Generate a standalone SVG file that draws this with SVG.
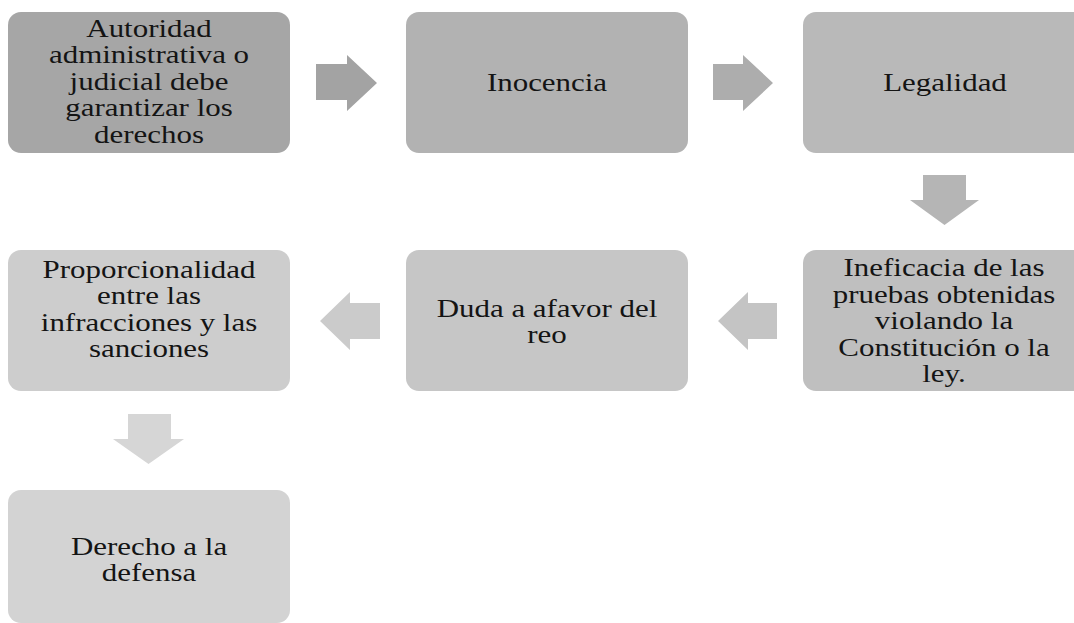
<svg xmlns="http://www.w3.org/2000/svg" width="1074" height="623" viewBox="0 0 1074 623">
<style>
text{font-family:"Liberation Serif","Times New Roman",serif;font-size:26px;fill:#141414;text-anchor:middle}
</style>
<rect width="1074" height="623" fill="#ffffff"/>
<g id="connectors">
<path d="M316 64H347V55L377 83L347 111V100H316Z" fill="#a3a3a3"/>
<path d="M713 64H743V55L773 83L743 111V100H713Z" fill="#adadad"/>
<path d="M923 175H966V200H979L944.5 225L910 200H923Z" fill="#b5b5b5"/>
<path d="M777 303H748V292L718 321L748 350V339H777Z" fill="#c4c4c4"/>
<path d="M380 303H350V292L320 321L350 350V339H380Z" fill="#cbcbcb"/>
<path d="M128 414H171V439H184L148.5 464L113 439H128Z" fill="#d6d6d6"/>
</g>
<g id="n1"><rect x="8" y="12" width="282" height="141" rx="13" fill="#a6a6a6"/>
<text transform="translate(149,0) scale(1.19,1)"><tspan x="0" y="37">Autoridad</tspan><tspan x="0" y="63.5">administrativa o</tspan><tspan x="0" y="90">judicial debe</tspan><tspan x="0" y="116.5">garantizar los</tspan><tspan x="0" y="143">derechos</tspan></text></g>
<g id="n2"><rect x="406" y="12" width="282" height="141" rx="13" fill="#b2b2b2"/>
<text transform="translate(547,0) scale(1.19,1)"><tspan x="0" y="91">Inocencia</tspan></text></g>
<g id="n3"><rect x="803" y="12" width="290" height="141" rx="13" fill="#b9b9b9"/>
<text transform="translate(945,0) scale(1.19,1)"><tspan x="0" y="91">Legalidad</tspan></text></g>
<g id="n4"><rect x="803" y="250" width="290" height="141" rx="13" fill="#bfbfbf"/>
<text transform="translate(944,0) scale(1.19,1)"><tspan x="0" y="276.5">Ineficacia de las</tspan><tspan x="0" y="303">pruebas obtenidas</tspan><tspan x="0" y="329.5">violando la</tspan><tspan x="0" y="356">Constitución o la</tspan><tspan x="0" y="382.5">ley.</tspan></text></g>
<g id="n5"><rect x="406" y="250" width="282" height="141" rx="13" fill="#c6c6c6"/>
<text transform="translate(547,0) scale(1.19,1)"><tspan x="0" y="317">Duda a afavor del</tspan><tspan x="0" y="343.5">reo</tspan></text></g>
<g id="n6"><rect x="8" y="250" width="282" height="141" rx="13" fill="#cdcdcd"/>
<text transform="translate(149,0) scale(1.19,1)"><tspan x="0" y="278">Proporcionalidad</tspan><tspan x="0" y="304.5">entre las</tspan><tspan x="0" y="331">infracciones y las</tspan><tspan x="0" y="357.5">sanciones</tspan></text></g>
<g id="n7"><rect x="8" y="490" width="282" height="133" rx="13" fill="#d3d3d3"/>
<text transform="translate(149,0) scale(1.19,1)"><tspan x="0" y="555">Derecho a la</tspan><tspan x="0" y="581.5">defensa</tspan></text></g>
</svg>
